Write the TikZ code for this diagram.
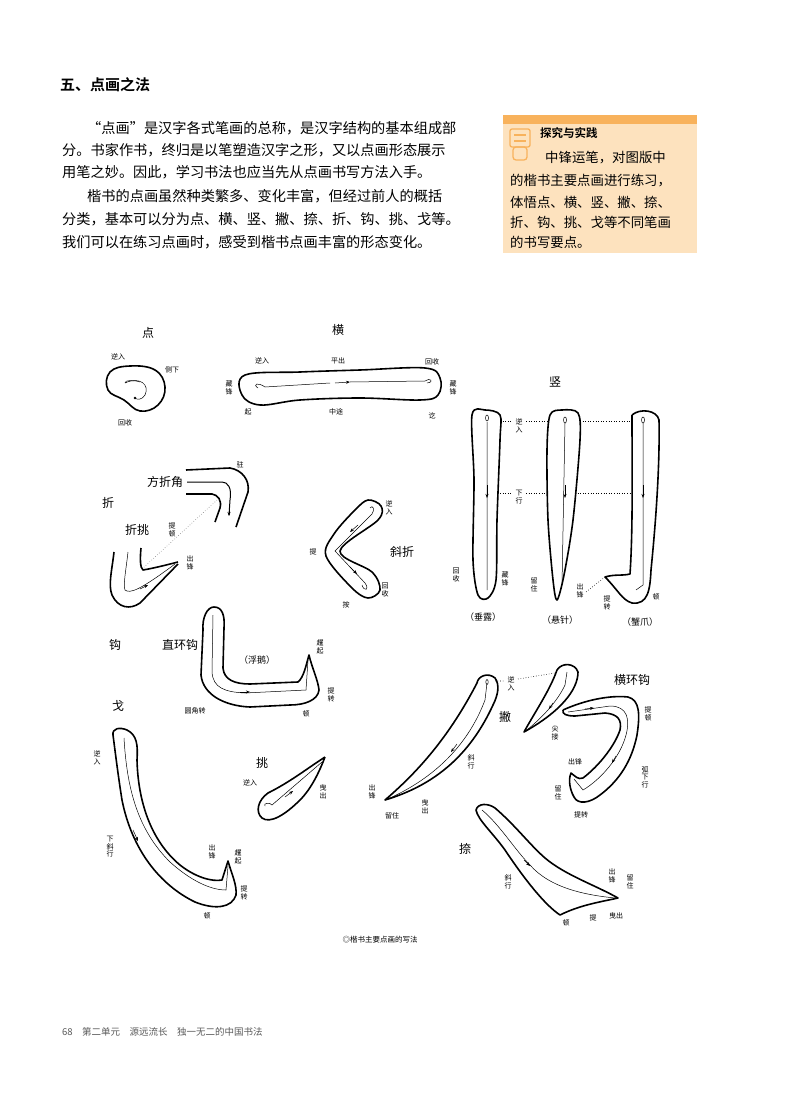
\documentclass[tikz,border=0pt]{standalone}
\usepackage{fontspec}
\newfontfamily\cjk{Noto Sans CJK SC}
\newfontfamily\cjkb{Noto Sans CJK SC Bold}
\usetikzlibrary{arrows.meta}
\definecolor{orbar}{RGB}{248,178,92}
\definecolor{orbg}{RGB}{253,226,190}
\begin{document}
\begin{tikzpicture}[x=1pt,y=-1pt,
  body/.style={font=\cjk\fontsize{14.2}{16}\selectfont,anchor=west,inner sep=0},
  side/.style={font=\cjk\fontsize{13.4}{15}\selectfont,anchor=west,inner sep=0},
  lbl/.style={font=\cjk\fontsize{7}{7.5}\selectfont,align=center,inner sep=0},
  big/.style={font=\cjk\fontsize{12}{14}\selectfont,inner sep=0},
  stroke/.style={line width=1.6pt,line join=round},
  thin/.style={line width=0.5pt},
  dir/.style={line width=0.5pt,-{Stealth[length=4pt,width=3pt]}},
  dotl/.style={line width=0.6pt,dotted}]
\useasboundingbox (0,0) rectangle (800,1118);
% heading and text
\node[font=\cjkb\fontsize{15}{17}\selectfont,anchor=west,inner sep=0] (h) at (60,85) {五、点画之法};
\node[body] (p1) at (87,128) {“点画”是汉字各式笔画的总称，是汉字结构的基本组成部};
\node[body] (p2) at (62,150) {分。书家作书，终归是以笔塑造汉字之形，又以点画形态展示};
\node[body] (p3) at (62,172) {用笔之妙。因此，学习书法也应当先从点画书写方法入手。};
\node[body] (p4) at (87,196) {楷书的点画虽然种类繁多、变化丰富，但经过前人的概括};
\node[body] (p5) at (62,219) {分类，基本可以分为点、横、竖、撇、捺、折、钩、挑、戈等。};
\node[body] (p6) at (62,242) {我们可以在练习点画时，感受到楷书点画丰富的形态变化。};
% sidebar
\fill[orbg] (503,115) rectangle (697,253);
\fill[orbar] (503,115) rectangle (697,124);
\draw[orbar,line width=1.3pt,rounded corners=2pt] (510,129) rectangle (530,147);
\draw[orbar,line width=1.3pt] (514,135)--(526,135) (514,141)--(526,141);
\draw[orbar,line width=1.3pt,rounded corners=3pt] (513,147) rectangle (527,160);
\node[font=\cjkb\fontsize{11.5}{13}\selectfont,anchor=west,inner sep=0] (st) at (540,133) {探究与实践};
\node[side] (s1) at (545,158) {中锋运笔，对图版中};
\node[side] (s2) at (510,181) {的楷书主要点画进行练习，};
\node[side] (s3) at (510,202) {体悟点、横、竖、撇、捺、};
\node[side] (s4) at (510,222) {折、钩、挑、戈等不同笔画};
\node[side] (s5) at (510,242) {的书写要点。};
% 点
\node[big] (tdian) at (148,333) {点};
\draw[stroke] plot[smooth cycle,tension=0.7] coordinates {(110,372) (130,366) (155,370) (165,387) (158,405) (140,411) (124,400) (108,390)};
\draw[thin] (125,383) .. controls (140,376) and (150,385) .. (145,395) .. controls (142,400) and (137,400) .. (135,398);
\fill (135,398) circle (1.3);
\draw[thin] (125,383) .. controls (124,380) and (135,380) .. (140,382);
\node[lbl] (d1) at (118,357) {逆入};
\node[lbl] (d2) at (172,370) {侧下};
\node[lbl] (d3) at (125,423) {回收};
% 横
\node[big] (theng) at (338,330) {横};
\draw[stroke] plot[smooth cycle,tension=0.6] coordinates {(245,375) (300,372) (360,370) (425,368) (440,378) (438,395) (420,400) (360,398) (300,400) (260,405) (242,395)};
\draw[thin] (258,388) .. controls (252,384) and (258,382) .. (265,387) -- (330,383) (350,382) -- (425,381) .. controls (430,377) and (435,382) .. (427,383);
\draw[dir] (335,383) -- (350,382);
\node[lbl] (h1) at (262,361) {逆入};
\node[lbl] (h2) at (338,361) {平出};
\node[lbl] (h3) at (432,362) {回收};
\node[lbl] (h4) at (229,388) {藏\\锋};
\node[lbl] (h5) at (453,388) {藏\\锋};
\node[lbl] (h6) at (248,412) {起};
\node[lbl] (h7) at (336,412) {中途};
\node[lbl] (h8) at (432,416) {讫};
% 竖
\node[big] (tshu) at (555,382) {竖};
\draw[stroke] plot[smooth cycle,tension=0.5] coordinates {(472,415) (485,410) (500,415) (500,440) (497,520) (496,580) (488,598) (478,595) (473,560) (474,480)};
\draw[stroke] plot[smooth cycle,tension=0.5] coordinates {(550,415) (562,410) (578,413) (580,440) (573,520) (564,575) (557,600) (553,580) (548,520) (547,450)};
\draw[stroke] (632,415) .. controls (640,408) and (657,410) .. (659,420) .. controls (660,470) and (655,530) .. (651,570) .. controls (650,590) and (648,605) .. (632,603) .. controls (622,600) and (618,590) .. (605,577) .. controls (615,574) and (622,576) .. (630,574) .. controls (633,530) and (632,470) .. (632,415);
\draw[thin] (487,422) -- (487,590) (565,423) -- (562,585) (643,423) -- (643,585) -- (636,590);
\draw[thin] (487,418) ellipse (1.5 and 3) (565,420) ellipse (1.5 and 3) (643,420) ellipse (1.5 and 3);
\draw[dir] (487,485) -- (487,498);
\draw[dir] (565,485) -- (565,498);
\draw[dir] (643,485) -- (643,498);
\draw[dotl] (500,421) -- (512,421) (526,421) -- (548,421) (580,421) -- (632,421);
\draw[dotl] (500,493) -- (512,493) (526,493) -- (547,493) (575,493) -- (631,493);
\draw[dotl] (605,577) -- (586,592);
\node[lbl] (s_1) at (519,426) {逆\\入};
\node[lbl] (s_2) at (519,497) {下\\行};
\node[lbl] (s_3) at (456,575) {回\\收};
\node[lbl] (s_4) at (505,579) {藏\\锋};
\node[lbl] (s_5) at (534,585) {留\\住};
\node[lbl] (s_6) at (580,591) {出\\锋};
\node[lbl] (s_7) at (607,603) {提\\转};
\node[lbl] (s_8) at (656,597) {顿};
\node[font=\cjk\fontsize{9}{10}\selectfont] (s_9) at (483,617) {（垂露）};
\node[font=\cjk\fontsize{9}{10}\selectfont] (s_10) at (560,620) {（悬针）};
\node[font=\cjk\fontsize{9}{10}\selectfont] (s_11) at (640,622) {（蟹爪）};
% 折
\node[big] (tzhe) at (108,503) {折};
\node[big] (tfzj) at (165,482) {方折角};
\node[big] (tzt) at (137,530) {折挑};
\draw[stroke] (186,470) -- (230,468) .. controls (242,470) and (250,480) .. (248,492) -- (236,527);
\draw[line width=1pt] (187,482) -- (222,482) .. controls (228,482) and (232,488) .. (230,500) -- (229,515);
\draw[dir] (229,505) -- (229,516);
\draw[stroke] (186,494) -- (212,494) .. controls (218,495) and (222,500) .. (220,508) -- (215,522);
\node[lbl] (z1) at (240,465) {驻};
\draw[dotl,gray] (217,500) -- (142,569);
\node[lbl] (z2) at (172,530) {提\\顿};
\draw[stroke] (114,552) .. controls (112,570) and (108,585) .. (112,595) .. controls (118,608) and (130,610) .. (140,603) -- (178,564);
\draw[stroke] (141,548) .. controls (140,558) and (140,568) .. (143,570) .. controls (155,568) and (170,564) .. (178,562);
\draw[thin] (128,552) .. controls (126,570) and (123,585) .. (125,590) .. controls (130,594) and (140,590) .. (175,564);
\draw[dir] (140,589) -- (148,585);
\node[lbl] (z3) at (190,563) {出\\锋};
% 斜折
\draw[stroke] plot[smooth cycle,tension=0.55] coordinates {(368,500) (381,506) (378,520) (340,551) (372,572) (380,590) (368,598) (352,588) (326,556) (334,534) (355,510)};
\draw[thin] (370,508) .. controls (373,504) and (375,510) .. (372,514) -- (335,551) -- (365,583) .. controls (370,590) and (364,592) .. (362,585);
\draw[dir] (358,525) -- (350,532);
\draw[dir] (350,567) -- (357,574);
\node[lbl] (x1) at (389,508) {逆\\入};
\node[lbl] (x2) at (313,552) {提};
\node[big] (x3) at (402,552) {斜折};
\node[lbl] (x4) at (385,590) {回\\收};
\node[lbl] (x5) at (346,605) {按};
% 钩 直环钩
\node[big] (tgou) at (115,645) {钩};
\node[big] (tzhg) at (180,645) {直环钩};
\draw[stroke] (203,630) .. controls (202,618) and (207,607) .. (214,607) .. controls (222,607) and (225,615) .. (224,628) -- (223,668) .. controls (224,680) and (235,684) .. (250,684) -- (298,682) .. controls (304,677) and (306,665) .. (309,655) .. controls (312,668) and (318,680) .. (319,690) .. controls (318,700) and (305,705) .. (290,705) -- (250,707) .. controls (225,706) and (203,695) .. (201,675) -- (203,630);
\draw[thin] (213,615) -- (212,672) .. controls (213,688) and (225,692) .. (245,693) -- (306,690) -- (308,660);
\draw[dir] (240,692) -- (250,692);
\node[font=\cjk\fontsize{9}{10}\selectfont] (g1) at (257,660) {（浮鹅）};
\node[lbl] (g2) at (320,647) {趯\\起};
\node[lbl] (g3) at (331,695) {提\\转};
\node[lbl] (g4) at (306,714) {顿};
\node[lbl] (g5) at (195,711) {圆角转};
% 戈
\node[big] (tge) at (118,706) {戈};
\draw[stroke] (113,735) .. controls (112,728) and (120,727) .. (127,730) .. controls (137,735) and (138,745) .. (137,760) .. controls (138,800) and (150,840) .. (180,865) .. controls (195,877) and (212,882) .. (222,880) -- (228,861) .. controls (232,875) and (237,885) .. (236,895) .. controls (232,908) and (215,910) .. (195,902) .. controls (160,885) and (132,850) .. (122,800) .. controls (118,775) and (115,750) .. (113,735);
\draw[thin] (124,738) .. controls (127,790) and (138,830) .. (170,862) .. controls (190,880) and (210,890) .. (226,890) -- (228,866);
\draw[dir] (133,830) -- (138,841);
\node[lbl] (ge1) at (97,758) {逆\\入};
\node[lbl] (ge2) at (110,847) {下\\斜\\行};
\node[lbl] (ge3) at (212,852) {出\\锋};
\node[lbl] (ge4) at (238,857) {趯\\起};
\node[lbl] (ge5) at (244,893) {提\\转};
\node[lbl] (ge6) at (207,916) {顿};
% 挑
\node[big] (ttiao) at (262,763) {挑};
\draw[stroke] (325,757) .. controls (305,770) and (290,782) .. (268,793) .. controls (258,800) and (255,812) .. (262,818) .. controls (270,824) and (285,815) .. (300,800) .. controls (312,788) and (320,770) .. (325,757);
\draw[thin] (265,806) .. controls (263,803) and (270,802) .. (272,805) -- (322,762);
\draw[dir] (285,797) -- (293,791);
\node[lbl] (t1) at (250,783) {逆入};
\node[lbl] (t2) at (323,792) {曳\\出};
% 撇
\draw[stroke] (477,683) .. controls (478,676) and (488,672) .. (495,678) .. controls (500,685) and (498,695) .. (493,705) .. controls (470,755) and (435,785) .. (385,800) .. controls (420,770) and (450,735) .. (477,683);
\draw[thin] (487,683) -- (485,700) .. controls (470,740) and (440,775) .. (390,798);
\draw[thin] (487,682) ellipse (1.2 and 2.5);
\draw[dir] (457,744) -- (451,752);
\draw[dotl] (495,681) -- (504,681) (518,679) -- (555,673);
\node[lbl] (pi1) at (511,684) {逆\\入};
\node[big] (tpie) at (505,717) {撇};
\node[lbl] (pi2) at (471,762) {斜\\行};
\node[lbl] (pi3) at (372,792) {出\\锋};
\node[lbl] (pi4) at (392,816) {留住};
\node[lbl] (pi5) at (425,807) {曳\\出};
% 横环钩
\draw[stroke] (557,670) .. controls (562,662) and (575,663) .. (578,672) .. controls (578,690) and (560,712) .. (524,732) .. controls (535,712) and (550,690) .. (557,670);
\draw[thin] (567,672) -- (565,685) .. controls (558,700) and (545,715) .. (527,730);
\draw[dir] (553,703) -- (549,709);
\node[lbl] (hh0) at (555,733) {尖\\接};
\node[big] (thhg) at (632,680) {横环钩};
\draw[stroke] (563,710) .. controls (585,700) and (610,695) .. (628,697) .. controls (640,700) and (640,715) .. (637,735) .. controls (632,760) and (620,780) .. (600,795) .. controls (590,803) and (578,805) .. (574,797) .. controls (570,790) and (568,780) .. (571,773) .. controls (575,776) and (578,780) .. (583,778) .. controls (600,765) and (615,745) .. (620,730) .. controls (622,720) and (618,714) .. (605,713) -- (575,716) .. controls (566,716) and (562,714) .. (563,710);
\draw[thin] (568,712) -- (610,706) .. controls (628,706) and (630,720) .. (626,735) .. controls (620,758) and (600,780) .. (583,790) -- (574,779);
\draw[dir] (585,709) -- (594,708);
\draw[dir] (616,756) -- (612,763);
\node[lbl] (hh1) at (648,714) {提\\顿};
\node[lbl] (hh2) at (645,777) {弧\\下\\行};
\node[lbl] (hh3) at (575,762) {出锋};
\node[lbl] (hh4) at (558,793) {留\\住};
\node[lbl] (hh5) at (581,815) {提转};
% 捺
\node[big] (tna) at (465,849) {捺};
\draw[stroke] (476,810) .. controls (478,803) and (488,803) .. (495,808) .. controls (515,825) and (530,845) .. (545,858) .. controls (565,875) and (595,885) .. (618,898) .. controls (600,902) and (580,905) .. (560,915) .. controls (545,905) and (525,880) .. (505,850) .. controls (492,832) and (478,820) .. (476,810);
\draw[thin] (482,810) .. controls (500,825) and (515,850) .. (530,865) .. controls (550,888) and (585,895) .. (615,898);
\draw[dir] (524,860) -- (530,866);
\node[lbl] (n1) at (508,882) {斜\\行};
\node[lbl] (n2) at (612,876) {出\\锋};
\node[lbl] (n3) at (630,882) {留\\住};
\node[lbl] (n4) at (593,918) {提};
\node[lbl] (n5) at (616,916) {曳出};
\node[lbl] (n6) at (566,923) {顿};
% caption and footer
\node[font=\cjk\fontsize{7.5}{9}\selectfont,inner sep=0] (cap) at (380,940) {◎楷书主要点画的写法};
\node[font=\cjk\fontsize{9.5}{11}\selectfont,text=black!65,anchor=west,inner sep=0] (foot) at (62,1032) {68\quad 第二单元\quad 源远流长\quad 独一无二的中国书法};
\end{tikzpicture}
\end{document}
